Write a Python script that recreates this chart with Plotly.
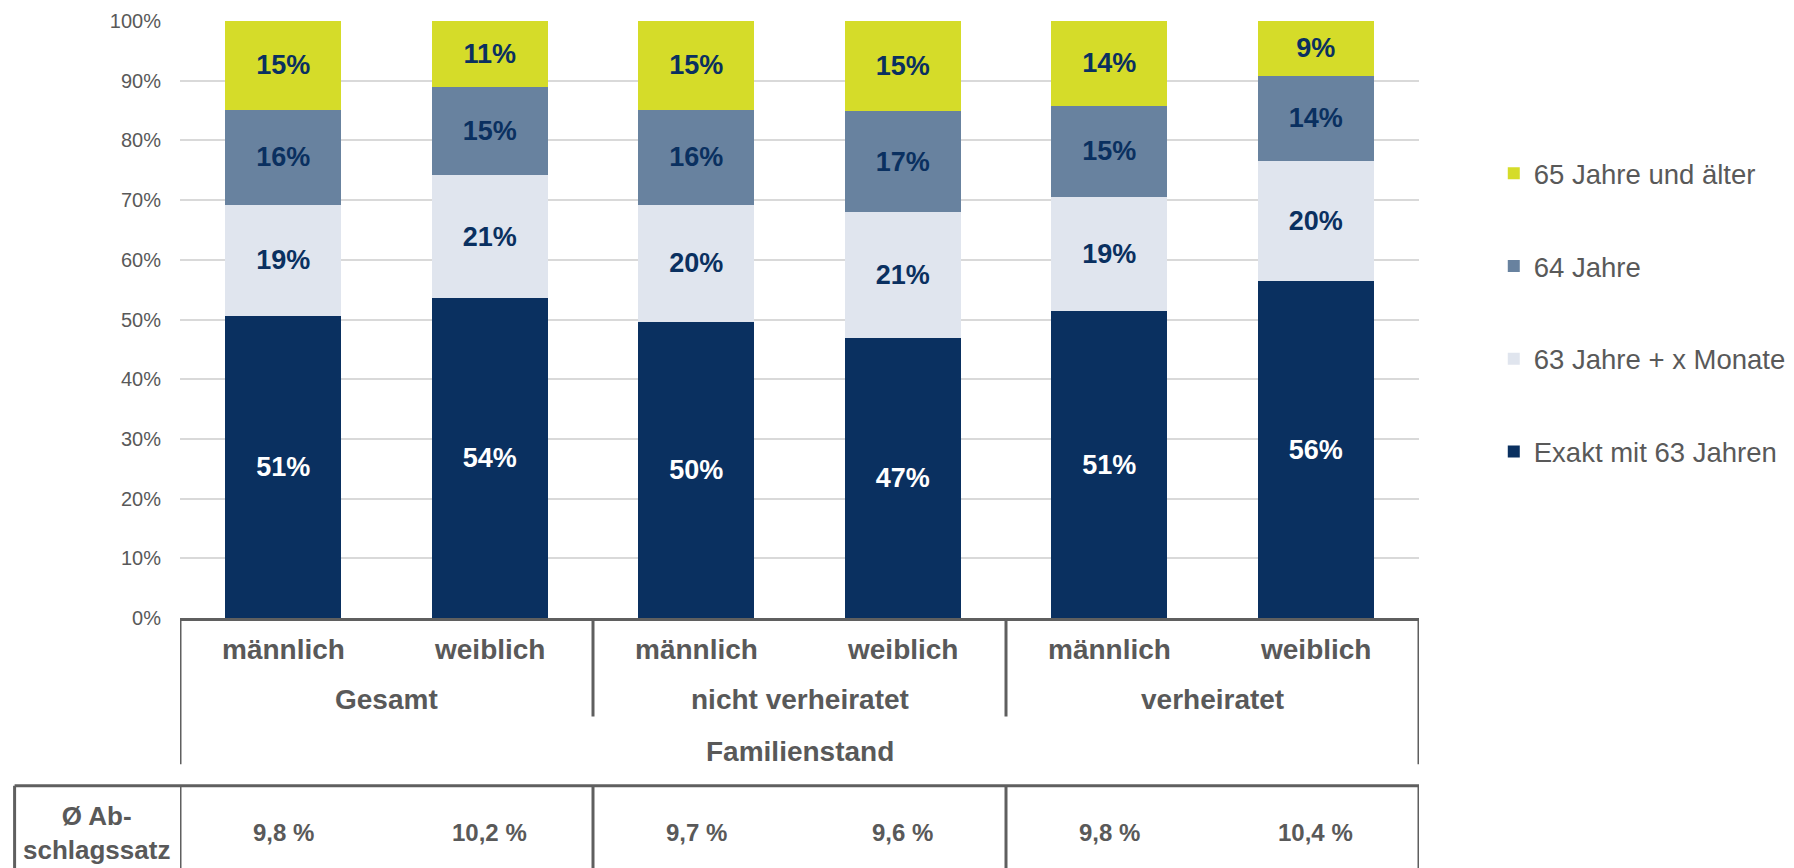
import plotly.graph_objects as go

# Renteneintritt nach Alter, Geschlecht und Familienstand (Anteile in %)
sexes = ["männlich", "weiblich", "männlich", "weiblich", "männlich", "weiblich"]
groups = ["Gesamt", "nicht verheiratet", "verheiratet"]
group_title = "Familienstand"

exakt_63 = [50.6, 53.6, 49.6, 46.9, 51.4, 56.4]
plus_monate_63 = [18.6, 20.6, 19.6, 21.1, 19.2, 20.2]
jahre_64 = [15.9, 14.8, 15.9, 16.9, 15.2, 14.2]
ab_65 = [14.9, 11.0, 14.9, 15.1, 14.2, 9.2]

abschlag_label = "Ø Ab-<br>schlagssatz"
abschlag = ["9,8 %", "10,2 %", "9,7 %", "9,6 %", "9,8 %", "10,4 %"]

DARK = "#0a3060"
GREY = "#595959"
LINE = "#5f5f5f"

series = [
    ("Exakt mit 63 Jahren", exakt_63, "#0a3060", "white"),
    ("63 Jahre + x Monate", plus_monate_63, "#e0e5ee", DARK),
    ("64 Jahre", jahre_64, "#68829f", DARK),
    ("65 Jahre und älter", ab_65, "#d5dc29", DARK),
]

xs = list(range(len(sexes)))

fig = go.Figure()
for k, (name, vals, colour, txtcol) in enumerate(series):
    fig.add_trace(go.Bar(
        x=xs, y=vals, name=name, legendgroup=name,
        legendrank=len(series) - k,  # top segment first in legend
        marker=dict(color=colour, line=dict(width=0)),
        texttemplate="%{y:.0f}%", textposition="inside",
        insidetextanchor="middle", textangle=0,
        textfont=dict(family="Liberation Sans, Arial, sans-serif",
                      size=27, color=txtcol, weight="bold"),
    ))

# category labels under the axis
lab_font = dict(family="Liberation Sans, Arial, sans-serif", size=28,
                color=GREY, weight="bold")
for i, s in enumerate(sexes):
    fig.add_annotation(x=i, y=-0.052, xref="x", yref="paper", text=s,
                       showarrow=False, font=lab_font, yanchor="middle")
for g, name in enumerate(groups):
    fig.add_annotation(x=2 * g + 0.5, y=-0.137, xref="x", yref="paper",
                       text=name, showarrow=False, font=lab_font,
                       yanchor="middle")
fig.add_annotation(x=(len(sexes) - 1) / 2, y=-0.224, xref="x", yref="paper",
                   text=group_title, showarrow=False, font=lab_font,
                   yanchor="middle")

# table with average deduction rate
tab_font = dict(family="Liberation Sans, Arial, sans-serif",
                size=24, color=GREY, weight="bold")
for i, v in enumerate(abschlag):
    fig.add_annotation(x=i, y=-0.36, xref="x", yref="paper", text=v,
                       showarrow=False, font=tab_font, yanchor="middle")
fig.add_annotation(x=-0.067, y=-0.36, xref="paper", yref="paper",
                   text=abschlag_label, showarrow=False,
                   font=dict(tab_font, size=26),
                   yanchor="middle", xanchor="center")

lw = 3
shapes = []
n = len(sexes)
# outer verticals of category area
for xv in (-0.5, n - 0.5):
    shapes.append(dict(type="line", xref="x", yref="paper", x0=xv, x1=xv,
                       y0=0, y1=-0.245, line=dict(color=LINE, width=lw)))
# group separators
for g in range(1, len(groups)):
    xv = 2 * g - 0.5
    shapes.append(dict(type="line", xref="x", yref="paper", x0=xv, x1=xv,
                       y0=0, y1=-0.165, line=dict(color=LINE, width=lw)))
# table borders
shapes.append(dict(type="line", xref="paper", yref="paper", x0=-0.1335, x1=1,
                   y0=-0.281, y1=-0.281, line=dict(color=LINE, width=lw)))
shapes.append(dict(type="line", xref="paper", yref="paper", x0=-0.1335, x1=-0.1335,
                   y0=-0.281, y1=-0.5, line=dict(color=LINE, width=lw)))
for xv in (-0.5, 1.5, 3.5, n - 0.5):
    shapes.append(dict(type="line", xref="x", yref="paper", x0=xv, x1=xv,
                       y0=-0.281, y1=-0.5, line=dict(color=LINE, width=lw)))

fig.update_layout(
    barmode="stack",
    bargap=0.44,
    width=1794, height=868,
    margin=dict(l=172, r=382, t=13, b=258),
    plot_bgcolor="white", paper_bgcolor="white",
    font=dict(family="Liberation Sans, Arial, sans-serif", color=GREY),
    shapes=shapes,
    showlegend=True,
    legend=dict(
        x=1.0595, y=0.786, xanchor="left", yanchor="top",
        traceorder="grouped", tracegroupgap=54,
        font=dict(size=27.5, color=GREY),
        itemwidth=30,
    ),
    xaxis=dict(
        range=[-0.5, n - 0.5], showticklabels=False, showgrid=False,
        zeroline=False, showline=True, linecolor=LINE, linewidth=lw,
        ticks="", automargin=False,
    ),
    yaxis=dict(
        range=[0, 100], dtick=10, ticksuffix="%", showgrid=True,
        gridcolor="#d9d9d9", gridwidth=2, zeroline=False,
        tickfont=dict(size=20, color=GREY), ticklabelstandoff=18,
        automargin=False,
    ),
)

fig.write_html("out.html")
